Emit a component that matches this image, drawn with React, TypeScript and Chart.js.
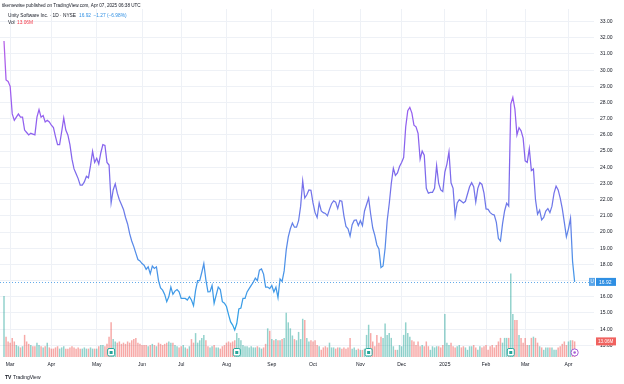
import React, { useEffect, useRef } from "react";
import { Chart, registerables } from "chart.js";
Chart.register(...registerables);

// Daily closes, Feb 27 2024 .. Apr 4 2025 (trading-day index)
const prices: number[] = [
  31.8, 29.4, 29.3, 29.0, 27.3, 26.9, 27.1, 27.3, 27.1, 27.1,
  26.3, 26.15, 26.0, 26.1, 26.05, 26.0, 27.1, 27.56, 27.1, 27.2,
  26.8, 26.9, 26.8, 26.6, 26.45, 25.9, 25.4, 25.4, 26.2, 27.05,
  26.3, 26.0, 25.4, 24.5, 23.9, 23.6, 23.3, 22.9, 22.9, 23.1,
  23.45, 23.35, 24.1, 24.99, 24.3, 24.55, 24.2, 24.9, 25.4, 25.35,
  24.3, 24.14, 21.8, 22.6, 22.98, 22.4, 22.0, 21.7, 21.4, 20.9,
  20.5, 19.9, 19.45, 19.1, 18.7, 18.3, 18.22, 18.05, 17.95, 17.7,
  17.85, 17.42, 17.9, 17.75, 17.85, 17.0, 16.55, 16.41, 16.15, 15.7,
  16.0, 16.6, 16.15, 16.35, 16.45, 16.3, 15.9, 15.9, 15.9, 15.8,
  16.0, 15.8, 15.45, 16.4, 17.0, 17.0, 17.5, 18.05, 17.05, 16.3,
  16.31, 16.7, 15.6, 16.1, 16.6, 16.45, 15.7, 15.6, 15.4, 14.9,
  14.45, 14.25, 13.95, 14.35, 15.25, 15.3, 15.9, 15.9, 16.3, 16.5,
  16.7, 16.9, 17.15, 17.0, 17.65, 17.72, 17.4, 16.6, 16.6, 16.5,
  16.7, 16.3, 16.6, 15.95, 17.1, 16.95, 17.6, 18.9, 19.7, 20.2,
  20.55, 20.3, 20.3, 20.7, 21.6, 23.16, 22.1, 22.3, 22.6, 22.58,
  21.8, 21.2, 20.9, 21.8, 21.3, 21.2, 21.15, 21.0, 21.4, 21.75,
  21.93, 21.85, 21.45, 21.95, 21.9, 21.0, 20.35, 20.2, 19.75, 20.45,
  20.72, 20.75, 20.4, 20.7, 20.4, 21.3, 21.7, 22.1, 21.1, 20.25,
  19.8, 19.2, 18.95, 17.8, 17.9, 19.0, 20.7, 21.75, 23.0, 23.94,
  23.5, 23.65, 24.05, 24.3, 24.6, 26.5, 27.5, 27.7, 27.35, 26.6,
  26.5, 26.1, 24.5, 25.0, 24.75, 22.7, 22.4, 22.45, 22.45, 22.7,
  24.1, 23.0, 22.6, 22.5, 23.7, 24.2, 24.95, 23.04, 22.7, 21.0,
  21.8, 22.0, 21.9, 21.8, 21.9, 22.35, 22.8, 23.05, 22.8, 21.85,
  22.7, 23.05, 22.94, 22.4, 21.43, 21.4, 21.2, 21.1, 21.05, 20.6,
  19.6, 19.45, 20.5, 21.3, 21.78, 21.6, 27.9, 28.32, 27.6, 26.0,
  26.45, 26.25, 25.8, 24.4, 24.3, 25.15, 23.8, 23.9, 22.0, 21.1,
  21.35, 20.75, 20.9, 21.3, 21.45, 21.2, 21.6, 22.4, 22.84, 22.6,
  22.1, 21.45, 20.6, 19.7, 20.2, 20.85, 18.19, 16.92,
];

// Daily volume, millions
const volumes: number[] = [
  51, 17, 13, 12, 16, 13, 10, 9, 8, 9,
  18.5, 13, 11, 10, 9, 9, 12, 10, 9, 8,
  9, 12, 8, 7, 7, 8, 9, 7, 8, 9,
  7, 7, 8, 9, 8, 7, 8, 7, 7, 8,
  7, 7, 8, 7, 7, 7, 9, 10, 10, 9,
  11, 17, 29, 15, 13, 12, 13, 11, 12, 11,
  13, 12, 14, 15, 16, 12, 11, 10, 10, 10,
  9, 10, 11, 10, 9, 12, 11, 10, 11, 12,
  13, 12, 12, 10, 9, 8, 9, 10, 8, 7,
  9, 15, 12, 20, 12, 14, 16, 18.5, 14, 9,
  8, 9, 10, 8, 8, 7, 9, 10, 12, 13,
  12, 13, 14, 20, 16, 14, 10, 9, 9, 8,
  9, 8, 8, 9, 8, 7, 8, 11, 24, 22,
  15, 14, 15, 14, 14, 15, 16, 37, 29, 24,
  18, 15, 14, 21, 15, 32, 31, 16, 13, 14,
  13, 14, 10, 9, 6, 8, 9, 8, 12, 8,
  8, 7, 8, 8, 7, 8, 7, 8, 16, 7,
  8, 6, 7, 6, 6, 7, 18.5, 27, 20, 13,
  9, 18.5, 12, 17, 16, 28, 18.5, 20, 16, 9,
  6, 6, 10, 9, 18.5, 29, 20, 17, 14, 13,
  10, 13, 9, 10, 9, 13, 9, 6, 9, 8,
  9, 9, 8, 10, 36, 12, 10, 12, 9, 8,
  9, 10, 8, 9, 8, 6, 9, 9, 10, 8,
  6, 9, 8, 9, 10, 6, 9, 10, 8, 10,
  13, 16, 12, 16, 16, 16, 70, 36, 31, 31,
  18.5, 16, 12, 16, 10, 10, 16, 17, 16, 12,
  9, 8, 6, 8, 8, 8, 8, 6, 6, 8,
  9, 11, 13, 10, 13, 14, 14, 13.06,
];

const monthTickIndex: number[] = [3, 23, 45, 67, 86, 108, 130, 150, 173, 193, 214, 234, 253, 274];
const monthTickLabels: string[] = ["Mar", "Apr", "May", "Jun", "Jul", "Aug", "Sep", "Oct", "Nov", "Dec", "2025", "Feb", "Mar", "Apr"];
const priceTicks: number[] = [13, 14, 15, 16, 17, 18, 19, 20, 21, 22, 23, 24, 25, 26, 27, 28, 29, 30, 31, 32, 33];
const earningsIndex: number[] = [52, 113, 177, 246];
const upcomingIndex: number[] = [277];

const publishedText = "tikemewise published on TradingView.com, Apr 07, 2025 06:38 UTC";
const symbolText = "Unity Software Inc. · 1D · NYSE";
const FONT = '"Liberation Sans", Arial, sans-serif';

const overlayPlugin = {
  id: "overlay",
  beforeDatasetsDraw(chart: any) {
    const { ctx, chartArea, scales } = chart;
    const last = prices[prices.length - 1];
    const py = Math.round(scales.y.getPixelForValue(last)) + 0.5;
    ctx.save();
    ctx.strokeStyle = "rgba(47,143,227,0.75)";
    ctx.lineWidth = 1;
    ctx.setLineDash([1, 2]);
    ctx.beginPath();
    ctx.moveTo(chartArea.left, py);
    ctx.lineTo(chartArea.right, py);
    ctx.stroke();
    ctx.restore();
  },
  afterDraw(chart: any) {
    const { ctx, scales } = chart;
    const n = prices.length;
    const last = prices[n - 1];
    const prev = prices[n - 2];
    const lastVol = volumes[n - 1];
    ctx.save();
    ctx.textBaseline = "middle";

    // earnings markers
    earningsIndex.forEach((i) => {
      const x = scales.x.getPixelForValue(i);
      ctx.fillStyle = "#ffffff";
      ctx.strokeStyle = "#26a69a";
      ctx.lineWidth = 1;
      ctx.beginPath();
      (ctx as any).roundRect(x - 3.5, 348.5, 7, 7.5, 1.5);
      ctx.fill();
      ctx.stroke();
      ctx.fillStyle = "#26a69a";
      ctx.fillRect(x - 1.5, 351, 3, 3);
    });
    upcomingIndex.forEach((i) => {
      const x = scales.x.getPixelForValue(i);
      ctx.fillStyle = "#ffffff";
      ctx.strokeStyle = "#a65fd6";
      ctx.lineWidth = 1;
      ctx.beginPath();
      ctx.arc(x, 352.5, 3.6, 0, Math.PI * 2);
      ctx.fill();
      ctx.stroke();
      ctx.fillStyle = "#a65fd6";
      ctx.beginPath();
      ctx.arc(x, 352.5, 1.3, 0, Math.PI * 2);
      ctx.fill();
    });

    // last price label
    const py = scales.y.getPixelForValue(last);
    ctx.fillStyle = "#5aa6ea";
    ctx.fillRect(589, py - 4, 6, 8);
    ctx.fillStyle = "#2f8fe3";
    ctx.fillRect(596, py - 4, 20, 8);
    ctx.fillStyle = "#ffffff";
    ctx.font = `4.5px ${FONT}`;
    ctx.textAlign = "center";
    ctx.fillText("U", 592, py + 0.3);
    ctx.font = `5px ${FONT}`;
    ctx.textAlign = "left";
    ctx.fillText(last.toFixed(2), 599, py + 0.3);

    // last volume label
    const vy = scales.yVol.getPixelForValue(lastVol);
    ctx.fillStyle = "#f0625f";
    ctx.fillRect(596, vy - 4, 20, 8);
    ctx.fillStyle = "#ffffff";
    ctx.font = `4.6px ${FONT}`;
    ctx.fillText(lastVol.toFixed(2) + "M", 598, vy + 0.3);

    // header
    ctx.fillStyle = "#131722";
    ctx.font = `4.6px ${FONT}`;
    ctx.textAlign = "left";
    ctx.fillText(publishedText, 2, 5.7);

    const chg = last - prev;
    const pct = (chg / prev) * 100;
    ctx.font = `4.8px ${FONT}`;
    ctx.fillText(symbolText, 8, 16);
    let x = 8 + ctx.measureText(symbolText).width + 3;
    ctx.fillStyle = "#2f8fe3";
    const priceStr = last.toFixed(2);
    ctx.fillText(priceStr, x, 16);
    x += ctx.measureText(priceStr).width + 2.5;
    const chgStr = `\u2212${Math.abs(chg).toFixed(2)} (\u2212${Math.abs(pct).toFixed(2)}%)`;
    ctx.fillText(chgStr, x, 16);

    ctx.fillStyle = "#131722";
    ctx.fillText("Vol", 8, 23);
    ctx.fillStyle = "#f23645";
    ctx.fillText(lastVol.toFixed(2) + "M", 17, 23);

    // logo
    ctx.fillStyle = "#131722";
    ctx.font = `bold 5px ${FONT}`;
    ctx.fillText("TV", 5, 378);
    ctx.font = `5px ${FONT}`;
    ctx.fillText("TradingView", 13, 378);
    ctx.restore();
  },
};

function lineGradient(context: any) {
  const chart = context.chart;
  const { ctx, chartArea, scales } = chart;
  if (!chartArea) return "#7a70e6";
  const y0 = scales.y.getPixelForValue(32);
  const y1 = scales.y.getPixelForValue(14);
  const g = ctx.createLinearGradient(0, y0, 0, y1);
  g.addColorStop(0, "#b65fe6");
  g.addColorStop(0.22, "#9a5ef0");
  g.addColorStop(0.44, "#8066ec");
  g.addColorStop(0.6, "#6c7be8");
  g.addColorStop(0.78, "#4c93e8");
  g.addColorStop(1, "#2fa3e6");
  return g;
}

export default function App() {
  const ref = useRef<HTMLCanvasElement | null>(null);
  useEffect(() => {
    document.body.style.margin = "0";
    if (!ref.current) return;
    const barColors = volumes.map((_, i) =>
      i === 0 || prices[i] >= prices[i - 1] ? "rgba(38,166,154,0.5)" : "rgba(239,83,80,0.5)"
    );
    const chart = new Chart(ref.current, {
      type: "line",
      data: {
        datasets: [
          {
            type: "line",
            data: prices.map((p, i) => ({ x: i, y: p })),
            yAxisID: "y",
            borderColor: lineGradient,
            borderWidth: 1.25,
            pointRadius: 0,
            tension: 0,
            fill: false,
            order: 0,
          } as any,
          {
            type: "bar",
            data: volumes.map((v, i) => ({ x: i, y: v })),
            yAxisID: "yVol",
            backgroundColor: barColors,
            borderWidth: 0,
            barPercentage: 0.72,
            categoryPercentage: 1,
            order: 1,
          } as any,
        ],
      },
      options: {
        animation: false,
        responsive: false,
        devicePixelRatio: 1,
        events: [],
        layout: { padding: 0 },
        plugins: { legend: { display: false }, tooltip: { enabled: false } },
        scales: {
          x: {
            type: "linear",
            offset: false,
            min: -1.94,
            max: 286.4,
            afterBuildTicks: (s: any) => {
              s.ticks = monthTickIndex.map((v) => ({ value: v }));
            },
            afterFit: (s: any) => {
              s.height = 27;
            },
            grid: { color: "#eef1f6", drawTicks: false, lineWidth: 1, offset: false },
            border: { display: false },
            ticks: {
              autoSkip: false,
              maxRotation: 0,
              padding: 5,
              color: "#131722",
              font: { size: 5, family: FONT },
              callback: (v: any) => {
                const k = monthTickIndex.indexOf(Number(v));
                return k >= 0 ? monthTickLabels[k] : "";
              },
            },
          },
          y: {
            type: "linear",
            position: "right",
            min: 12.28,
            max: 33.78,
            afterBuildTicks: (s: any) => {
              s.ticks = priceTicks.map((v) => ({ value: v }));
            },
            afterFit: (s: any) => {
              s.width = 30;
            },
            grid: { color: "#eef1f6", drawTicks: false, lineWidth: 1 },
            border: { display: false },
            ticks: {
              autoSkip: false,
              padding: 6,
              color: "#131722",
              font: { size: 5, family: FONT },
              callback: (v: any) => Number(v).toFixed(2),
            },
          },
          yVol: {
            type: "linear",
            display: false,
            min: 0,
            max: 291.4,
          },
        },
      },
      plugins: [overlayPlugin],
    } as any);
    return () => chart.destroy();
  }, []);
  return (
    <div style={{ position: "fixed", left: 0, top: 0, width: 624, height: 384, background: "#fff" }}>
      <canvas ref={ref} width={624} height={384} style={{ display: "block", width: 624, height: 384 }} />
    </div>
  );
}
